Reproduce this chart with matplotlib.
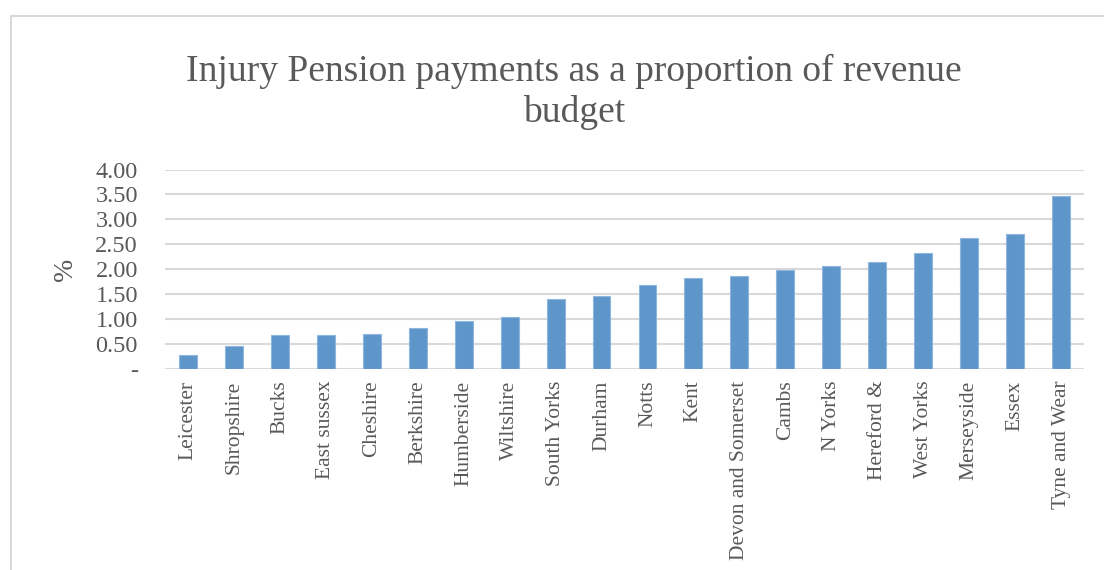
import matplotlib.pyplot as plt
from matplotlib.patches import Rectangle
from matplotlib.ticker import FixedLocator, FuncFormatter

# data
forces = ["Leicester", "Shropshire", "Bucks", "East sussex", "Cheshire",
          "Berkshire", "Humberside", "Wiltshire", "South Yorks", "Durham",
          "Notts", "Kent", "Devon and Somerset", "Cambs", "N Yorks",
          "Hereford &", "West Yorks", "Merseyside", "Essex", "Tyne and Wear"]
pct = [0.27, 0.46, 0.67, 0.68, 0.70, 0.81, 0.95, 1.03, 1.40, 1.46,
       1.68, 1.82, 1.87, 1.99, 2.06, 2.14, 2.32, 2.62, 2.71, 3.47]
yticks = [0, 0.5, 1.0, 1.5, 2.0, 2.5, 3.0, 3.5, 4.0]

plt.rcParams['font.family'] = ['Liberation Serif', 'DejaVu Serif']
txt = '#595959'
grid = '#d9d9d9'

fig = plt.figure(figsize=(11.04, 5.70), dpi=100)
# chart area border
fig.patches.append(Rectangle((11 / 1104, -0.1), 1.2, 1 - 16 / 570 + 0.1,
                             transform=fig.transFigure, fill=False,
                             edgecolor=grid, linewidth=1.5))

ax = fig.add_axes([165 / 1104, 1 - 368.7 / 570, (1084 - 165) / 1104, 199.2 / 570])
x = range(len(forces))
ax.bar(x, pct, width=0.39, color='#5f96ca', edgecolor='#8fb6dc', linewidth=0.8, zorder=3)

ax.set_xlim(-0.5, len(forces) - 0.5)
ax.set_ylim(0, 4)
ax.yaxis.set_major_locator(FixedLocator(yticks))
ax.yaxis.set_major_formatter(FuncFormatter(lambda v, p: '-' if v == 0 else f'{v:.2f}'))
ax.grid(axis='y', color=grid, linewidth=1.5, zorder=0)
for s in ax.spines.values():
    s.set_visible(False)
ax.tick_params(axis='both', length=0, colors=txt)
ax.tick_params(axis='y', pad=19.5, labelsize=17.5)
ax.set_xticks(list(x))
ax.set_xticklabels(forces, rotation=90, va='top', ha='center')
ax.tick_params(axis='x', pad=8.5, labelsize=15.5)
ax.set_ylabel('%', color=txt, fontsize=20)
ax.yaxis.set_label_coords(-0.0947, 0.5)

fig.text(574 / 1104, 1 - 92 / 570,
         'Injury Pension payments as a proportion of revenue\nbudget',
         ha='center', va='center', fontsize=27, color=txt, linespacing=1.2)

fig.savefig('out.png', dpi=100)
